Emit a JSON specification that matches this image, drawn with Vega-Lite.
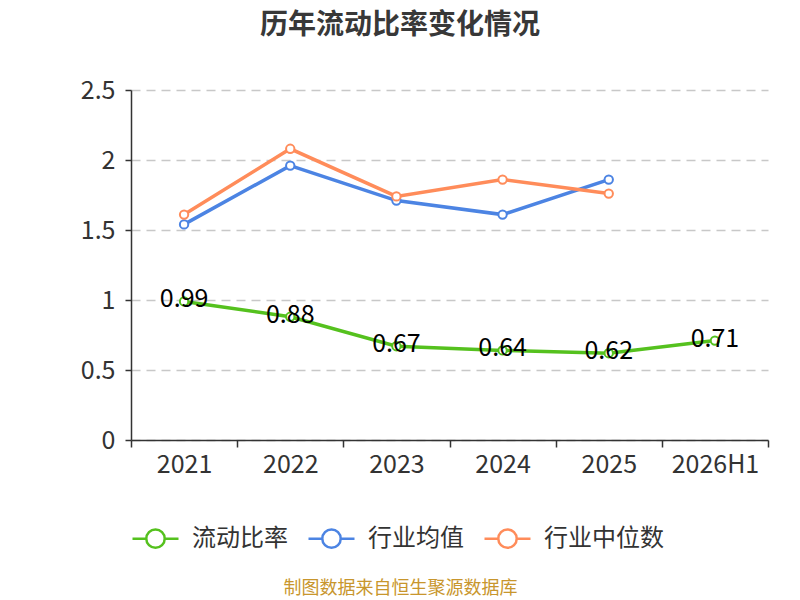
{
  "$schema": "https://vega.github.io/schema/vega-lite/v6.json",
  "autosize": {"type": "none"},
  "width": 637,
  "height": 350,
  "padding": {"left": 131, "top": 90, "right": 32, "bottom": 160},
  "background": "white",
  "title": {
    "text": "历年流动比率变化情况",
    "fontSize": 28,
    "fontWeight": "bold",
    "color": "#383838",
    "anchor": "middle",
    "dx": -49.5,
    "offset": 38
  },
  "config": {
    "font": "Noto Sans CJK SC",
    "view": {"stroke": null}
  },
  "data": {
    "values": [
      {"year": "2021", "series": "流动比率", "value": 0.99},
      {"year": "2022", "series": "流动比率", "value": 0.88},
      {"year": "2023", "series": "流动比率", "value": 0.67},
      {"year": "2024", "series": "流动比率", "value": 0.64},
      {"year": "2025", "series": "流动比率", "value": 0.62},
      {"year": "2026H1", "series": "流动比率", "value": 0.71},
      {"year": "2021", "series": "行业均值", "value": 1.54},
      {"year": "2022", "series": "行业均值", "value": 1.96},
      {"year": "2023", "series": "行业均值", "value": 1.71},
      {"year": "2024", "series": "行业均值", "value": 1.61},
      {"year": "2025", "series": "行业均值", "value": 1.86},
      {"year": "2021", "series": "行业中位数", "value": 1.61},
      {"year": "2022", "series": "行业中位数", "value": 2.08},
      {"year": "2023", "series": "行业中位数", "value": 1.74},
      {"year": "2024", "series": "行业中位数", "value": 1.86},
      {"year": "2025", "series": "行业中位数", "value": 1.76}
    ]
  },
  "encoding": {
    "x": {
      "field": "year",
      "type": "nominal",
      "sort": ["2021", "2022", "2023", "2024", "2025", "2026H1"],
      "scale": {"type": "band", "paddingInner": 0, "paddingOuter": 0},
      "axis": {
        "title": "制图数据来自恒生聚源数据库",
        "titleColor": "#c8962d",
        "titleFontSize": 18,
        "titleFontWeight": "normal",
        "titleX": 269,
        "titleY": 148,
        "titleBaseline": "middle",
        "titleAlign": "center",
        "labelAngle": 0,
        "labelFontSize": 25,
        "labelColor": "#333333",
        "labelPadding": 5,
        "tickBand": "extent",
        "tickSize": 7,
        "tickColor": "#333333",
        "tickWidth": 1.5,
        "domainColor": "#333333",
        "domainWidth": 1.5,
        "grid": false
      }
    },
    "y": {
      "field": "value",
      "type": "quantitative",
      "scale": {"domain": [0, 2.5], "nice": false},
      "axis": {
        "title": null,
        "values": [0, 0.5, 1, 1.5, 2, 2.5],
        "format": ".1~f",
        "labelFontSize": 25,
        "labelColor": "#333333",
        "labelPadding": 10,
        "tickSize": 6,
        "tickColor": "#333333",
        "tickWidth": 1.5,
        "domainColor": "#333333",
        "domainWidth": 1.5,
        "grid": true,
        "gridColor": "#c8c8c8",
        "gridDash": [9, 6],
        "gridWidth": 1.5
      }
    }
  },
  "layer": [
    {
      "mark": {"type": "line", "strokeWidth": 3.5},
      "encoding": {
        "color": {
          "field": "series",
          "type": "nominal",
          "scale": {
            "domain": ["流动比率", "行业均值", "行业中位数"],
            "range": ["#55c11e", "#4c84e3", "#ff8c5a"]
          },
          "legend": {
            "title": null,
            "orient": "none",
            "direction": "horizontal",
            "legendX": 0,
            "legendY": 424,
            "labelFontSize": 24,
            "labelColor": "#333333",
            "labelOffset": 12,
            "columnPadding": 15,
            "symbolType": "M-1,0L-0.4,0M0.4,0A0.4,0.4,0,1,1,-0.4,0A0.4,0.4,0,1,1,0.4,0M0.4,0L1,0",
            "symbolSize": 2116,
            "symbolStrokeWidth": 2.5,
            "symbolFillColor": "white"
          }
        },
        "order": {"field": "series", "sort": "ascending"}
      }
    },
    {
      "mark": {"type": "point", "filled": true, "fill": "white", "size": 70, "strokeWidth": 2, "opacity": 1},
      "encoding": {
        "stroke": {
          "field": "series",
          "type": "nominal",
          "scale": {
            "domain": ["流动比率", "行业均值", "行业中位数"],
            "range": ["#55c11e", "#4c84e3", "#ff8c5a"]
          },
          "legend": null
        }
      }
    },
    {
      "transform": [{"filter": "datum.series === '流动比率'"}],
      "mark": {"type": "text", "fontSize": 25, "color": "#000000", "align": "center", "baseline": "middle", "dy": -2},
      "encoding": {
        "text": {"field": "value", "type": "quantitative", "format": ".2f"}
      }
    }
  ]
}
